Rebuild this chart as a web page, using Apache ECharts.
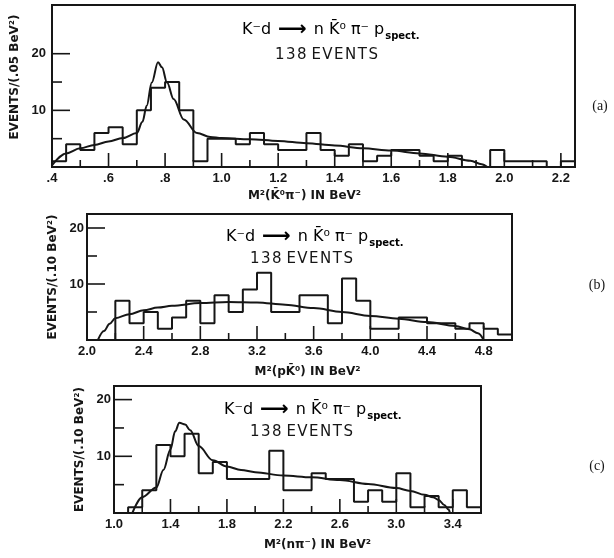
<!DOCTYPE html>
<html><head><meta charset="utf-8">
<script src="https://cdn.jsdelivr.net/npm/echarts@6/dist/echarts.min.js"></script>
<style>html,body{margin:0;padding:0;background:#fff}#c{width:614px;height:558px}</style>
</head><body><div id="c"></div>
<script>
// ---------- Panel (a): M^2(K0bar pi-) ----------
const binStartA = 0.40, binWidthA = 0.05;
const countsA = [1,4,3,6,7,4,10,14,15,10,1,5,5,4,6,4,3,3,6,3,2,4,1,2,3,3,2,1,2,0,0,3,1,1,1,0,1];
const curveXA = [0.40,0.45,0.50,0.55,0.60,0.65,0.70,0.72,0.735,0.753,0.775,0.789,0.807,0.83,0.866,0.913,0.96,1.00,1.10,1.20,1.30,1.40,1.50,1.60,1.70,1.80,1.88,1.92,1.94];
const curveYA = [0.3,2.4,3.3,3.9,4.5,5.1,6.0,8.0,10.8,14.9,18.5,17.6,14.9,12.0,8.4,6.0,5.3,5.1,4.9,4.6,4.2,3.8,3.3,2.9,2.4,1.8,1.1,0.5,0.0];
const xTickValsA = [0.4,0.6,0.8,1.0,1.2,1.4,1.6,1.8,2.0,2.2];
const xTickTextA = ['.4','.6','.8','1.0','1.2','1.4','1.6','1.8','2.0','2.2'];
const xMinorA = [0.5,0.7,0.9,1.1,1.3,1.5,1.7,1.9,2.1];

// ---------- Panel (b): M^2(p K0bar) ----------
const binStartB = 2.0, binWidthB = 0.1;
const countsB = [0,0,7,3,5,2,4,7,3,8,5,9,12,5,5,8,8,3,11,7,2,2,4,4,3,3,2,3,2,1];
const curveXB = [2.077,2.12,2.16,2.2,2.3,2.4,2.5,2.6,2.8,3.0,3.2,3.4,3.6,3.8,4.0,4.2,4.4,4.6,4.7,4.76,4.8];
const curveYB = [0,1.6,2.9,3.9,4.6,5.3,5.8,6.1,6.6,6.8,6.7,6.3,5.7,5.0,4.3,3.8,3.2,2.5,1.9,1.2,0];
const xTickValsB = [2.0,2.4,2.8,3.2,3.6,4.0,4.4,4.8];
const xTickTextB = ['2.0','2.4','2.8','3.2','3.6','4.0','4.4','4.8'];
const xMinorB = [2.2,2.6,3.0,3.4,3.8,4.2,4.6];

// ---------- Panel (c): M^2(n pi-) ----------
const binStartC = 1.0, binWidthC = 0.1;
const countsC = [0,1,4,12,10,14,7,9,6,6,6,11,4,4,7,6,6,2,4,2,7,1,3,1,4,1];
const curveXC = [1.13,1.2,1.3,1.35,1.4,1.433,1.463,1.504,1.54,1.6,1.7,1.8,1.9,2.0,2.2,2.4,2.6,2.8,3.0,3.1,3.2,3.26,3.3,3.34,3.37,3.38];
const curveYC = [0,2.8,4.5,7.6,11.2,14.4,15.9,15.6,14.6,11.8,9.3,8.2,7.6,7.2,6.6,6.3,5.8,5.1,4.4,3.9,3.2,2.8,2.3,1.4,0.6,0];
const xTickValsC = [1.0,1.4,1.8,2.2,2.6,3.0,3.4];
const xTickTextC = ['1.0','1.4','1.8','2.2','2.6','3.0','3.4'];
const xMinorC = [1.2,1.6,2.0,2.4,2.8,3.2];

const yTickVals = [10,20];
const yTickText = ['10','20'];
const yMinor = [5,15];

const INK = '#161616';

function stepData(start, width, counts) {
  const pts = counts.map((c, i) => [+(start + i * width).toFixed(4), c]);
  pts.push([+(start + counts.length * width).toFixed(4), counts[counts.length - 1]]);
  return pts;
}
function zip(xs, ys) { return xs.map((x, i) => [x, ys[i]]); }
function lookup(vals, texts) {
  return function (v) {
    for (let i = 0; i < vals.length; i++) if (Math.abs(vals[i] - v) < 1e-6) return texts[i];
    return '';
  };
}

const panels = [
  { grid: {left: 52, top: 5, width: 523, height: 162}, xMin: 0.4, xMax: 2.25, yMax: 28.6,
    xv: xTickValsA, xt: xTickTextA, xm: xMinorA,
    xName: 'M²(K̄⁰π⁻) IN BeV²', xGap: 23, xPad: [0, 18, 0, 0],
    yName: 'EVENTS/(.05 BeV²)', yGap: 24, yPad: [0, 0, 0, 18], labMargin: 6,
    bins: stepData(binStartA, binWidthA, countsA), curve: zip(curveXA, curveYA) },
  { grid: {left: 87, top: 214, width: 425, height: 126}, xMin: 2.0, xMax: 5.0, yMax: 22.5,
    xv: xTickValsB, xt: xTickTextB, xm: xMinorB,
    xName: 'M²(pK̄⁰) IN BeV²', xGap: 26, xPad: [0, 0, 0, 16],
    yName: 'EVENTS/(.10 BeV²)', yGap: 22, yPad: [0, 0, 0, 0], labMargin: 3,
    bins: stepData(binStartB, binWidthB, countsB), curve: zip(curveXB, curveYB) },
  { grid: {left: 114, top: 386, width: 367, height: 127}, xMin: 1.0, xMax: 3.6, yMax: 22.4,
    xv: xTickValsC, xt: xTickTextC, xm: xMinorC,
    xName: 'M²(nπ⁻) IN BeV²', xGap: 26, xPad: [0, 0, 0, 40],
    yName: 'EVENTS/(.10 BeV²)', yGap: 22, yPad: [0, 0, 0, 0], labMargin: 3,
    bins: stepData(binStartC, binWidthC, countsC), curve: zip(curveXC, curveYC) }
];

// tick marks drawn through the axis scales (long at labelled values, short in between)
function tickSeries(i, p) {
  const data = [];
  p.xv.forEach(v => data.push([v, 0, 0, 14]));      // [x, y, orientation(0=vertical), length]
  p.xm.forEach(v => data.push([v, 0, 0, 7]));
  yTickVals.forEach(v => data.push([p.xMin, v, 1, 18]));
  yMinor.forEach(v => data.push([p.xMin, v, 1, 10]));
  return {
    type: 'custom', xAxisIndex: i, yAxisIndex: i, silent: true, clip: false, data: data,
    encode: {x: 0, y: 1},
    renderItem: function (params, api) {
      const pt = api.coord([api.value(0), api.value(1)]);
      const len = api.value(3);
      const vertical = api.value(2) === 0;
      return {
        type: 'line',
        shape: vertical ? {x1: pt[0], y1: pt[1], x2: pt[0], y2: pt[1] - len}
                        : {x1: pt[0], y1: pt[1], x2: pt[0] + len, y2: pt[1]},
        style: {stroke: INK, lineWidth: 1.6}
      };
    }
  };
}

const grids = [], xAxes = [], yAxes = [], series = [];
const labelFont = {color: INK, fontSize: 13, fontWeight: 'bold', fontFamily: 'Liberation Sans'};
panels.forEach((p, i) => {
  grids.push(Object.assign({show: true, borderColor: INK, borderWidth: 2}, p.grid));
  xAxes.push({
    type: 'value', gridIndex: i, min: p.xMin, max: p.xMax,
    axisLine: {show: true, onZero: false, lineStyle: {color: INK, width: 2}},
    axisTick: {show: false},
    axisLabel: Object.assign({customValues: p.xv, formatter: lookup(p.xv, p.xt), margin: 5}, labelFont),
    splitLine: {show: false},
    name: p.xName, nameLocation: 'middle', nameGap: p.xGap,
    nameTextStyle: {color: INK, fontSize: 12, fontWeight: 'bold', fontFamily: 'DejaVu Sans', padding: p.xPad}
  });
  yAxes.push({
    type: 'value', gridIndex: i, min: 0, max: p.yMax,
    axisLine: {show: true, onZero: false, lineStyle: {color: INK, width: 2}},
    axisTick: {show: false},
    axisLabel: Object.assign({customValues: yTickVals, formatter: lookup(yTickVals, yTickText), margin: p.labMargin}, labelFont),
    splitLine: {show: false},
    name: p.yName, nameLocation: 'middle', nameRotate: 90, nameGap: p.yGap,
    nameTextStyle: {color: INK, fontSize: 12, fontWeight: 'bold', fontFamily: 'DejaVu Sans', padding: p.yPad}
  });
  series.push({
    type: 'line', xAxisIndex: i, yAxisIndex: i, step: 'end', data: p.bins,
    symbol: 'none', lineStyle: {color: INK, width: 2}, animation: false
  });
  series.push({
    type: 'line', xAxisIndex: i, yAxisIndex: i, smooth: 0.35, smoothMonotone: 'x', data: p.curve,
    symbol: 'none', lineStyle: {color: INK, width: 2}, animation: false
  });
  series.push(tickSeries(i, p));
});

const formulaRich = {
  m: {fontSize: 16, fontFamily: 'DejaVu Sans', color: INK},
  ar: {fontSize: 20, fontWeight: 'bold', fontFamily: 'DejaVu Sans', color: INK},
  s: {fontSize: 10, fontWeight: 'bold', fontFamily: 'DejaVu Sans', color: INK, padding: [12, 0, 0, 1]}
};
const formulaText = '{m|K⁻d}{ar| ⟶ }{m|n K̄⁰ π⁻ p}{s|spect.}';
function formula(x, y) {
  return {type: 'text', x: x, y: y, style: {text: formulaText, rich: formulaRich, textVerticalAlign: 'middle', textAlign: 'left'}};
}
const eventsText = '1\u200A3\u200A8 E\u200AV\u200AE\u200AN\u200AT\u200AS';
function events(x, y) {
  return {type: 'text', x: x, y: y, style: {text: eventsText, fill: INK, fontSize: 15, fontFamily: 'DejaVu Sans', textVerticalAlign: 'middle', textAlign: 'left'}};
}
function tag(t, x, y) {
  return {type: 'text', x: x, y: y, style: {text: t, fill: INK, fontSize: 14, fontFamily: 'Liberation Serif', textVerticalAlign: 'middle', textAlign: 'center'}};
}

const chart = echarts.init(document.getElementById('c'), null, {renderer: 'canvas'});
chart.setOption({
  backgroundColor: '#ffffff',
  animation: false,
  grid: grids, xAxis: xAxes, yAxis: yAxes, series: series,
  graphic: [
    formula(242, 30), events(275, 55),
    formula(226, 237), events(250, 259),
    formula(224, 410), events(250, 432),
    tag('(a)', 600, 106), tag('(b)', 597, 285), tag('(c)', 597, 466)
  ]
});
</script></body></html>
